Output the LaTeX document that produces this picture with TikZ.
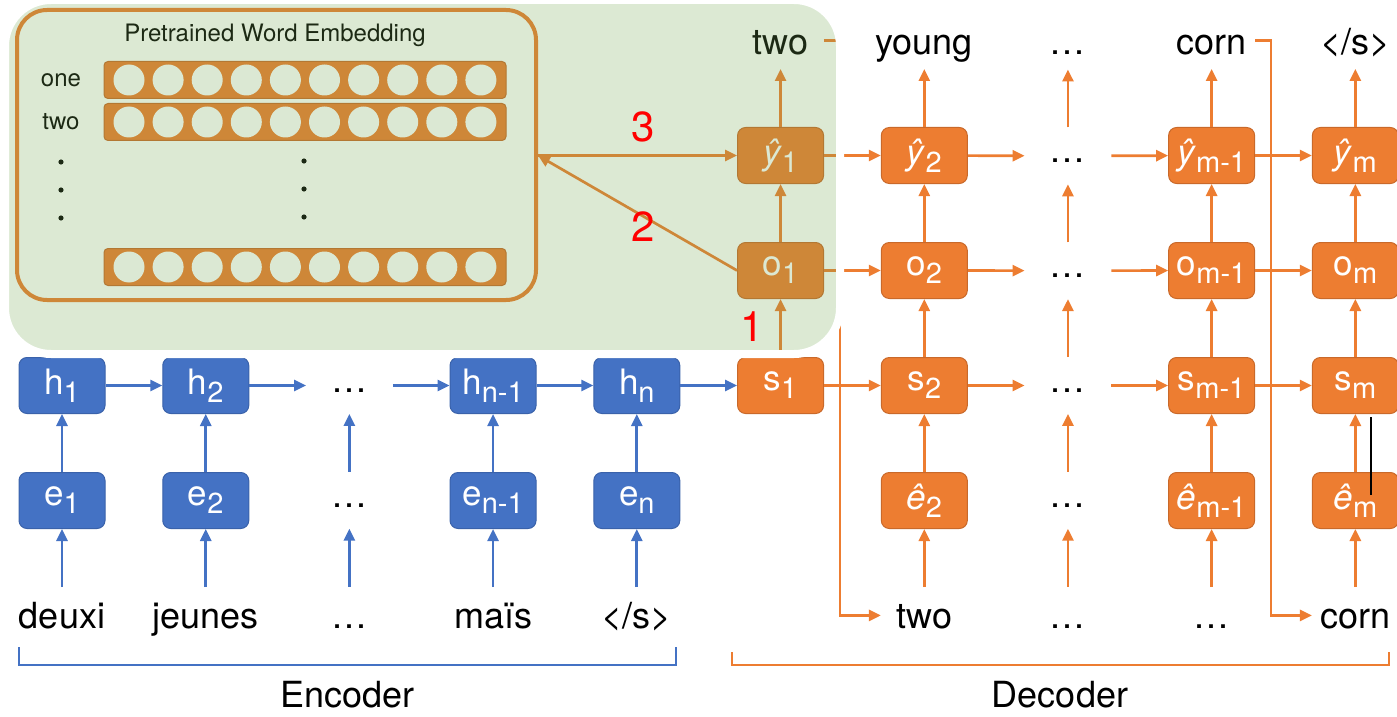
\documentclass[tikz,border=0pt]{standalone}
\usepackage{fontspec}
\setmainfont{TeX Gyre Heros}
\usetikzlibrary{arrows.meta,positioning,calc}
\definecolor{encblue}{HTML}{4472C4}
\definecolor{encedge}{HTML}{3A62AA}
\definecolor{decorange}{HTML}{ED7D31}
\definecolor{decedge}{HTML}{C9692A}
\definecolor{paneg}{RGB}{115,167,80}
\definecolor{numred}{HTML}{FF0000}
\newcommand{\sub}[2]{#1\raisebox{-4pt}{\fontsize{14.5}{14.5}\selectfont #2}}
\tikzset{
  cell/.style={rounded corners=4pt,minimum width=43pt,minimum height=28pt,inner sep=0pt,text=white,font=\fontsize{17.5}{17.5}\selectfont,line width=0.5pt},
  enc/.style={cell,fill=encblue,draw=encedge},
  dec/.style={cell,fill=decorange,draw=decedge},
  gapnode/.style={minimum width=43pt,minimum height=28pt,inner sep=0pt,font=\fontsize{18}{18}\selectfont,text height=7pt,text depth=0pt},
  word/.style={minimum width=43pt,minimum height=28pt,inner sep=0pt,font=\fontsize{18}{18}\selectfont,text height=17pt,text depth=3.5pt},
  eflow/.style={-{Triangle[length=6pt,width=5.5pt]},line width=1.35pt,draw=encblue},
  dflow/.style={-{Triangle[length=6pt,width=5.5pt]},line width=1.35pt,draw=decorange},
  embbox/.style={draw=decorange,line width=2pt,rounded corners=15pt,minimum width=259.5pt,minimum height=145pt,inner sep=0pt},
  bar/.style={fill=decorange,draw=decedge,line width=0.5pt,rounded corners=2pt,minimum width=201pt,minimum height=18.5pt,inner sep=0pt},
  small/.style={font=\fontsize{12}{12}\selectfont,inner sep=0pt},
  num/.style={text=numred,font=\fontsize{21}{21}\selectfont,inner sep=0pt},
  pane/.style={fill=paneg,fill opacity=0.25,draw=white,line width=4pt,rounded corners=23pt},
  caption/.style={font=\fontsize{18}{18}\selectfont,inner sep=0pt}
}
\begin{document}
\begin{tikzpicture}[x=0.5pt,y=-0.5pt,node distance=29pt and 28.375pt]
  \useasboundingbox (0,0) rectangle (1397,717);

  % embedding table
  \node[embbox] (emb) at (276.5,155) {};
  \node[small] (embt) at (275,35) {Pretrained Word Embedding};
  \node[small] (one) at (61,80) {one};
  \node[small] (two) at (61,122) {two};
  \foreach \bn/\yy in {b1/80,b2/122,b3/267} {
    \node[bar] (\bn) at (305,\yy) {};
    \foreach \k in {0,...,9} \fill[white] (129+39.1*\k,\yy) circle (7.75pt);
  }
  \foreach \yy in {162,190,218} {
    \fill (61,\yy) circle (1.3pt);
    \fill (304,\yy-1) circle (1.3pt);
  }

  % encoder
  \node[enc] (h1) at (62,385.5) {\sub{h}{1}};
  \node[enc, right=of h1] (h2) {\sub{h}{2}};
  \node[gapnode, right=of h2] (hd) {\dots};
  \node[enc, right=of hd] (h3) {\sub{h}{n-1}};
  \node[enc, right=of h3] (h4) {\sub{h}{n}};
  \node[enc, below=of h1] (e1) {\sub{e}{1}};
  \node[enc, below=of h2] (e2) {\sub{e}{2}};
  \node[gapnode, below=of hd] (ed) {\dots};
  \node[enc, below=of h3] (e3) {\sub{e}{n-1}};
  \node[enc, below=of h4] (e4) {\sub{e}{n}};
  \node[word, below=of e1] (w1) {deuxi};
  \node[word, below=of e2] (w2) {jeunes};
  \node[word, below=of ed] (wd) {\dots};
  \node[word, below=of e3] (w3) {maïs};
  \node[word, below=of e4] (w4) {</s>};

  % decoder
  \node[dec, right=of h4] (s1) {\sub{s}{1}};
  \node[dec, right=of s1] (s2) {\sub{s}{2}};
  \node[gapnode, right=of s2] (sd) {\dots};
  \node[dec, right=of sd] (s3) {\sub{s}{m-1}};
  \node[dec, right=of s3] (s4) {\sub{s}{m}};
  \foreach \col/\lab in {1/1,2/2,3/m-1,4/m} {
    \node[dec, above=of s\col] (o\col) {\sub{o}{\lab}};
    \node[dec, above=of o\col] (y\col) {\sub{\textit{ŷ}}{\lab}};
  }
  \node[gapnode, above=of sd] (od) {\dots};
  \node[gapnode, above=of od] (yd) {\dots};
  \node[word, above=of y1] (t1) {two};
  \node[word, above=of y2] (t2) {young};
  \node[word, above=of yd] (td) {\dots};
  \node[word, above=of y3] (t3) {corn};
  \node[word, above=of y4] (t4) {</s>};
  \node[dec, below=of s2] (f2) {\sub{\textit{ê}}{2}};
  \node[gapnode, below=of sd] (fd) {\dots};
  \node[dec, below=of s3] (f3) {\sub{\textit{ê}}{m-1}};
  \node[dec, below=of s4] (f4) {\sub{\textit{ê}}{m}};
  \node[word, below=of f2] (b2) {two};
  \node[word, below=of fd] (bd) {\dots};
  \node[word, below=of f3] (b3) {\dots};
  \node[word, below=of f4] (b4) {corn};

  % encoder arrows
  \foreach \a/\b in {h1/h2,h2/hd,hd/h3,h3/h4,h4/s1} \draw[eflow] (\a) -- (\b);
  \foreach \col in {1,2,d,3,4} {
    \draw[eflow] (e\col) -- (h\col);
    \draw[eflow] (w\col) -- (e\col);
  }

  % decoder arrows
  \foreach \row in {s,o,y}
    \foreach \a/\b in {1/2,2/d,d/3,3/4} \draw[dflow] (\row\a) -- (\row\b);
  \foreach \col in {1,2,d,3,4} {
    \draw[dflow] (s\col) -- (o\col);
    \draw[dflow] (o\col) -- (y\col);
    \draw[dflow] (y\col) -- (t\col);
  }
  \foreach \col in {2,d,3,4} {
    \draw[dflow] (f\col) -- (s\col);
    \draw[dflow] (b\col) -- (f\col);
  }
  \draw[dflow] (t1.east) -- ++(16,0) |- (b2.west);
  \draw[dflow] (t3.east) -- ++(16,0) |- (b4.west);

  % lookup
  \coordinate (hit) at (emb.east |- y1);
  \draw[dflow] (o1.west) -- (hit);
  \draw[dflow] (hit) -- (y1.west);

  \draw[black, line width=1pt] (1371,417) -- (1371,495);

  % brackets
  \draw[encblue, line width=1pt] (19,647) |- (676,665) -- (676,647);
  \draw[decorange, line width=1pt] (732,652) |- (1389,665) -- (1389,652);
  \node[caption] (enc) at (347.5,695) {Encoder};
  \node[caption] (decl) at (1060,695) {Decoder};

  % highlighted area
  \draw[pane] (5,0) rectangle (840,354);
  \node[num] (n3) at (643,127) {3};
  \node[num] (n2) at (643,227) {2};
  \node[num] (n1) at (752,327) {1};
\end{tikzpicture}
\end{document}
